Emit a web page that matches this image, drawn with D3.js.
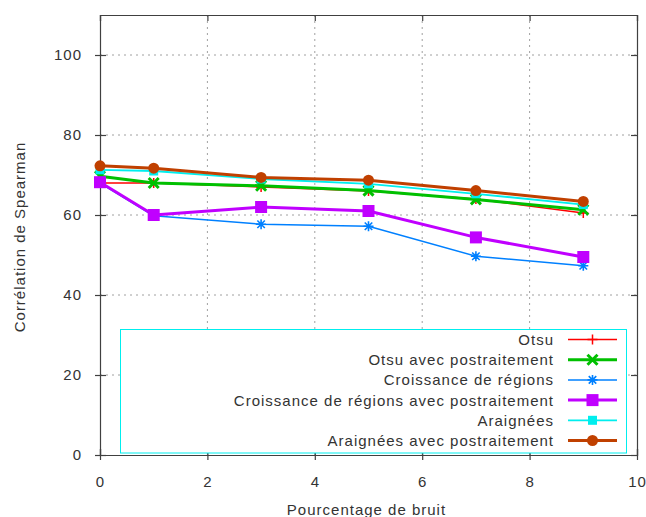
<!DOCTYPE html>
<html>
<head>
<meta charset="utf-8">
<script src="https://cdn.jsdelivr.net/npm/d3@7"></script>
<style>
  html, body { margin: 0; padding: 0; background: #fff; }
  svg { display: block; font-family: "Liberation Sans", Arial, sans-serif; }
  svg text { font-size: 15px; letter-spacing: 1px; }
</style>
</head>
<body>
<svg id="chart" width="646" height="517"></svg>
<script>
// Noise levels (percent) on the x axis
const noise = [0, 1, 3, 5, 7, 9];

// Spearman correlation for each segmentation method
const otsu            = [68.0, 68.0, 67.0, 66.0, 64.0, 60.5];
const otsuPost        = [69.7, 68.0, 67.3, 66.1, 63.9, 61.3];
const croissance      = [68.0, 59.8, 57.7, 57.2, 49.7, 47.3];
const croissancePost  = [68.2, 60.0, 62.0, 61.0, 54.4, 49.5];
const araignees       = [71.3, 71.0, 69.0, 67.8, 65.3, 62.6];
const araigneesPost   = [72.3, 71.7, 69.4, 68.7, 66.1, 63.4];

const seriesNames = [
  "Otsu",
  "Otsu avec postraitement",
  "Croissance de régions",
  "Croissance de régions avec postraitement",
  "Araignées",
  "Araignées avec postraitement"
];
const seriesValues = [otsu, otsuPost, croissance, croissancePost, araignees, araigneesPost];

const xTicks = [0, 2, 4, 6, 8, 10];
const yTicks = [0, 20, 40, 60, 80, 100];

// Drawing style per series: colour, line width, marker kind and size
const styles = [
  { color: "#ff0000", width: 1.5, marker: "plus",   size: 5 },
  { color: "#00c000", width: 3,   marker: "cross",  size: 5 },
  { color: "#0080ff", width: 1.5, marker: "star",   size: 5 },
  { color: "#c000ff", width: 3,   marker: "square", size: 6 },
  { color: "#00eeee", width: 1.8, marker: "square", size: 4.5 },
  { color: "#c04000", width: 3,   marker: "circle", size: 5.5 }
];

const svg = d3.select("#chart");
const margin = { left: 100, right: 9, top: 15, bottom: 62 };
const W = 646, H = 517;
const x = d3.scaleLinear().domain([0, 10]).range([margin.left, W - margin.right]);
const y = d3.scaleLinear().domain([0, 110]).range([H - margin.bottom, margin.top]);

const axisColor = "#404040";
const textColor = "#333";

// Grid
const grid = svg.append("g");
grid.selectAll("line.gx").data(xTicks.slice(1, -1)).join("line")
  .attr("x1", d => x(d)).attr("x2", d => x(d))
  .attr("y1", y(0)).attr("y2", y(110))
  .attr("stroke", "#a0a0a0").attr("stroke-width", 1)
  .attr("stroke-dasharray", "2,4");
grid.selectAll("line.gy").data(yTicks.slice(1)).join("line")
  .attr("x1", x(0)).attr("x2", x(10))
  .attr("y1", d => y(d)).attr("y2", d => y(d))
  .attr("stroke", "#a0a0a0").attr("stroke-width", 1)
  .attr("stroke-dasharray", "2,4");

// Axes with mirrored ticks on all four sides
const axBottom = svg.append("g").attr("transform", `translate(0,${y(0)})`)
  .call(d3.axisBottom(x).tickValues(xTicks).tickSize(-6).tickPadding(21));
const axTop = svg.append("g").attr("transform", `translate(0,${y(110)})`)
  .call(d3.axisTop(x).tickValues(xTicks).tickSize(-6).tickFormat(""));
const axLeft = svg.append("g").attr("transform", `translate(${x(0)},0)`)
  .call(d3.axisLeft(y).tickValues(yTicks).tickSize(-6).tickPadding(18));
const axRight = svg.append("g").attr("transform", `translate(${x(10)},0)`)
  .call(d3.axisRight(y).tickValues(yTicks).tickSize(-6).tickFormat(""));

[axBottom, axTop, axLeft, axRight].forEach(g => {
  g.attr("font-size", null).attr("font-family", null);
  g.select(".domain").attr("stroke", axisColor).attr("stroke-width", 1.2);
  g.selectAll(".tick line").attr("stroke", axisColor).attr("stroke-width", 1.2);
  g.selectAll(".tick text").attr("fill", textColor);
});
// outer tick marks on the left and bottom axes
axBottom.selectAll(".tick").append("line").attr("y2", 5).attr("stroke", axisColor).attr("stroke-width", 1.2);
axLeft.selectAll(".tick").append("line").attr("x2", -5).attr("stroke", axisColor).attr("stroke-width", 1.2);

// Axis titles
svg.append("text")
  .attr("x", x(5) - 2).attr("y", 515)
  .attr("text-anchor", "middle").attr("fill", textColor)
  .text("Pourcentage de bruit");
svg.append("text")
  .attr("transform", `translate(25,${y(55) + 2}) rotate(-90)`)
  .attr("text-anchor", "middle").attr("fill", textColor)
  .text("Corrélation de Spearman");

// Marker drawing
function drawMarker(g, cx, cy, st) {
  const s = st.size;
  const c = st.color;
  if (st.marker === "plus") {
    g.append("path").attr("d", `M${cx - s},${cy}H${cx + s}M${cx},${cy - s}V${cy + s}`)
      .attr("stroke", c).attr("stroke-width", 1.5).attr("fill", "none");
  } else if (st.marker === "cross") {
    g.append("path").attr("d", `M${cx - s},${cy - s}L${cx + s},${cy + s}M${cx - s},${cy + s}L${cx + s},${cy - s}`)
      .attr("stroke", c).attr("stroke-width", 3).attr("fill", "none");
  } else if (st.marker === "star") {
    g.append("path").attr("d", `M${cx - s},${cy}H${cx + s}M${cx},${cy - s}V${cy + s}` +
      `M${cx - s * 0.75},${cy - s * 0.75}L${cx + s * 0.75},${cy + s * 0.75}M${cx - s * 0.75},${cy + s * 0.75}L${cx + s * 0.75},${cy - s * 0.75}`)
      .attr("stroke", c).attr("stroke-width", 1.6).attr("fill", "none");
  } else if (st.marker === "square") {
    g.append("rect").attr("x", cx - s).attr("y", cy - s)
      .attr("width", 2 * s).attr("height", 2 * s).attr("fill", c);
  } else if (st.marker === "circle") {
    g.append("circle").attr("cx", cx).attr("cy", cy).attr("r", s).attr("fill", c);
  }
}

// Series lines and markers
const line = d3.line().x((d, i) => x(noise[i])).y(d => y(d));
seriesValues.forEach((vals, k) => {
  const st = styles[k];
  const g = svg.append("g");
  g.append("path").datum(vals).attr("d", line)
    .attr("fill", "none").attr("stroke", st.color)
    .attr("stroke-width", st.width).attr("stroke-linejoin", "round");
  vals.forEach((v, i) => drawMarker(g, x(noise[i]), y(v), st));
});

// Legend
const legend = svg.append("g");
legend.append("rect")
  .attr("x", 120.5).attr("y", 329.5).attr("width", 506).attr("height", 123.5)
  .attr("fill", "#fff").attr("stroke", "#00eeee").attr("stroke-width", 1);
seriesNames.forEach((name, k) => {
  const st = styles[k];
  const ly = 339.5 + k * 20.2;
  legend.append("text")
    .attr("x", 554).attr("y", ly + 5.5)
    .attr("text-anchor", "end").attr("fill", textColor)
    .text(name);
  legend.append("line")
    .attr("x1", 568).attr("x2", 617).attr("y1", ly).attr("y2", ly)
    .attr("stroke", st.color).attr("stroke-width", st.width);
  drawMarker(legend, 592.5, ly, st);
});
</script>
</body>
</html>
